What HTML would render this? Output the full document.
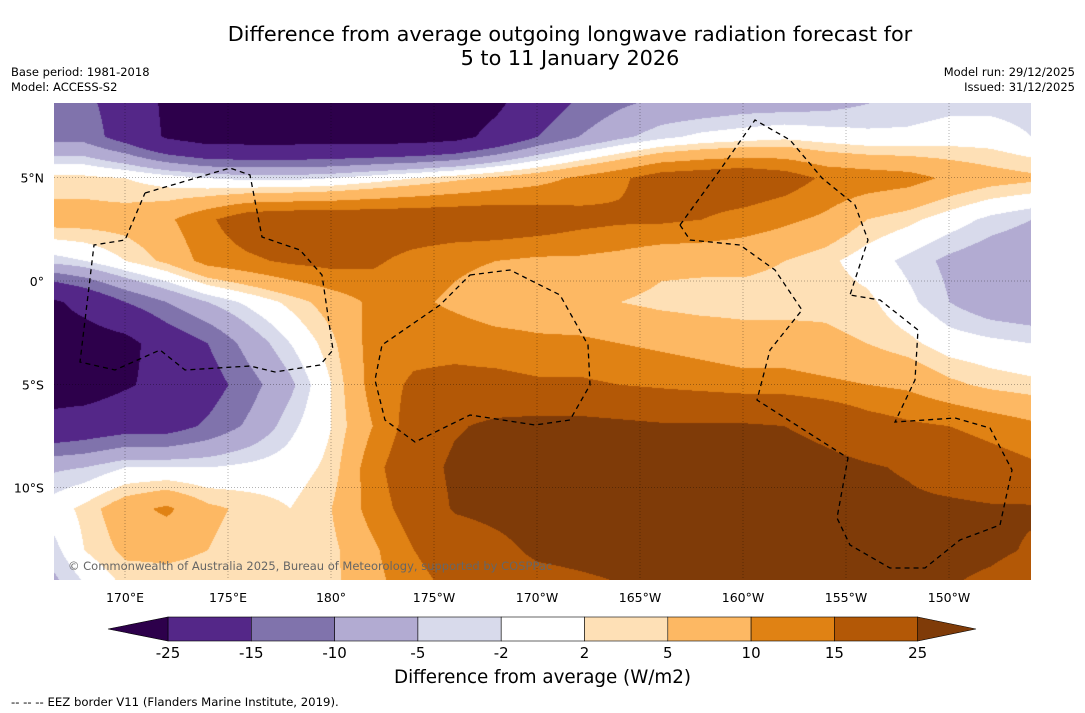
<!DOCTYPE html>
<html><head><meta charset="utf-8">
<style>
body{margin:0;background:#fff;font-family:"DejaVu Sans","Liberation Sans",sans-serif;}
#wrap{position:relative;width:1085px;height:713px;overflow:hidden;background:#fff;}
.t{position:absolute;color:#000;white-space:nowrap;}
</style></head><body>
<div id="wrap">
<div class="t" style="left:0;width:1140px;top:22px;text-align:center;font-size:20.8px;line-height:24px;">Difference from average outgoing longwave radiation forecast for<br>5 to 11 January 2026</div>
<div class="t" style="left:11px;top:65px;font-size:11.5px;line-height:15px;">Base period: 1981-2018<br>Model: ACCESS-S2</div>
<div class="t" style="right:10px;top:65px;font-size:11.5px;line-height:15px;text-align:right;">Model run: 29/12/2025<br>Issued: 31/12/2025</div>
<canvas id="map" width="977" height="477" style="position:absolute;left:54px;top:103px;"></canvas>
<svg id="ov" width="1085" height="713" style="position:absolute;left:0;top:0;"></svg>
<div class="t" style="left:68px;top:559px;font-size:11.5px;color:#666;">© Commonwealth of Australia 2025, Bureau of Meteorology, supported by COSPPac</div>
<div class="t" style="left:0;width:1085px;text-align:center;top:667px;font-size:18.3px;">Difference from average (W/m2)</div>
<div class="t" style="left:11px;top:695px;font-size:11.7px;">--  --  -- EEZ border V11 (Flanders Marine Institute, 2019).</div>
</div>
<script>
const levels=[-25,-15,-10,-5,-2,2,5,10,15,25];
const colors=["#2d004b","#542788","#8073ac","#b2abd2","#d8daeb","#ffffff","#fee0b6","#fdb863","#e08214","#b35806","#7f3b08"];
const gridLons=[166,168,170,172,174,176,178,180,182,184,186,188,190,192,194,196,198,200,202,204,206,208,210,212,214];
const gridLats=[9,7,5,3,1,-1,-3,-5,-7,-9,-11,-13,-15];
const lonTicks=[170,175,180,185,190,195,200,205,210];
const lonTickLabels=["170°E","175°E","180°","175°W","170°W","165°W","160°W","155°W","150°W"];
const latTicks=[5,0,-5,-10];
const latTickLabels=["5°N","0°","5°S","10°S"];
const olr=[
[-12,-14,-18,-27,-32,-32,-32,-32,-32,-32,-32,-28,-20,-15,-12,-10,-10,-9,-9,-8,-6,-5,-4,-4,-4],
[-12,-12,-18,-26,-30,-30,-30,-30,-30,-30,-28,-22,-15,-10,-6,-3,-1,0,1,0,-1,-1,0,0,-2],
[3,3,2,0,-2,-3,-3,-2,0,2,4,6,8,11,14,18,19,20,18,14,13,12,9,7,6],
[7,7,7,9,14,19,20,20,20,20,20,20,19,17,16,16,15,13,11,9,5,3,0,-3,-5],
[-4,-2,2,6,12,14,16,17,16,13,11,10,9,9,8,6,6,6,5,3,0,-3,-6,-8,-9],
[-28,-22,-15,-10,-5,-1,3,7,11,11,9,7,7,6,5,4,3.5,3.5,3.5,4,3,-1,-5,-8,-9],
[-30,-30,-28,-20,-15,-8,-2,4,12,13,13,12,11,11,10,9,8,7,7,6,5,3,0,-1,-2],
[-30,-30,-26,-22,-18,-12,-6,2,12,16,17,17,16,16,15,14,13,12,12,11,10,9,6,4,3],
[-22,-20,-18,-18,-14,-9,-3,2,10,18,24,27,28,28,27,26,26,26,25,22,18,16,15,13,11],
[-6,-5,-2,-2,-2,-1,0,3,13,20,27,29,30,30,30,30,30,30,30,28,26,24,20,18,16],
[-1,3,8,11,6,4,2,5,12,18,26,28,30,30,30,30,30,30,30,30,28,27,27,26,26],
[-5,2,6,6,5,3,2,4,9,15,18,22,27,28,29,30,30,30,30,30,28,28,28,27,24],
[-8,-3,2,3,3,2,2,4,8,13,16,18,20,22,24,24,25,26,27,28,28,26,25,22,18]
];
const X=lon=>125+(lon-170)*20.6;
const Y=lat=>281-lat*20.66;
const invX=x=>170+(x-125)/20.6;
const invY=y=>(281-y)/20.66;
(function(){
 const c=document.getElementById('map'),ctx=c.getContext('2d');
 const img=ctx.createImageData(c.width,c.height);
 const rgb=colors.map(h=>[parseInt(h.slice(1,3),16),parseInt(h.slice(3,5),16),parseInt(h.slice(5,7),16)]);
 const dLon=gridLons[1]-gridLons[0],dLat=gridLats[0]-gridLats[1];
 for(let py=0;py<c.height;py++){
  const lat=invY(py+103);
  let fr=(gridLats[0]-lat)/dLat; let r=Math.min(Math.max(Math.floor(fr),0),gridLats.length-2); let ty=fr-r;
  for(let px=0;px<c.width;px++){
   const lon=invX(px+54);
   let fc=(lon-gridLons[0])/dLon; let k=Math.min(Math.max(Math.floor(fc),0),gridLons.length-2); let tx=fc-k;
   const v=(olr[r][k]*(1-tx)+olr[r][k+1]*tx)*(1-ty)+(olr[r+1][k]*(1-tx)+olr[r+1][k+1]*tx)*ty;
   let i=0; while(i<levels.length&&v>=levels[i]) i++;
   const col=rgb[i],o=(py*c.width+px)*4;
   img.data[o]=col[0];img.data[o+1]=col[1];img.data[o+2]=col[2];img.data[o+3]=255;
  }
 }
 ctx.putImageData(img,0,0);
})();
const NS="http://www.w3.org/2000/svg";
const ov=document.getElementById('ov');
function mk(tag,attrs,parent){const e=document.createElementNS(NS,tag);for(const k in attrs)e.setAttribute(k,attrs[k]);(parent||ov).appendChild(e);return e;}
lonTicks.forEach((l,i)=>{
 const g=mk('line',{x1:X(l),x2:X(l),y1:103,y2:580,stroke:'#000','stroke-width':0.5,'stroke-dasharray':'1,2',opacity:0.6});
 
 
 const t=mk('text',{x:X(l),y:602,'text-anchor':'middle','font-size':12.5,'font-family':'DejaVu Sans, Liberation Sans, sans-serif'});
 t.textContent=lonTickLabels[i];
 
 
});
latTicks.forEach((l,i)=>{
 const g=mk('line',{x1:54,x2:1031,y1:Y(l),y2:Y(l),stroke:'#000','stroke-width':0.5,'stroke-dasharray':'1,2',opacity:0.6});
 
 
 const t=mk('text',{x:44,y:Y(l)+5,'text-anchor':'end','font-size':12.5,'font-family':'DejaVu Sans, Liberation Sans, sans-serif'});
 t.textContent=latTickLabels[i];
 
 
});
const eez=[
"M145,193 L230,168 L250,175 L262,237 L300,250 L322,275 L333,350 L320,365 L275,372 L250,366 L185,370 L160,350 L115,370 L80,362 L94,245 L125,240 L145,193",
"M470,275 L510,270 L560,295 L588,345 L590,385 L570,420 L535,425 L470,415 L415,442 L385,420 L375,380 L382,345 L440,305 Z",
"M680,225 L720,170 L755,120 L790,140 L822,178 L855,205 L868,240 L850,295",
"M680,225 L690,240 L740,245 L775,270 L802,310 L770,350 L757,400 L848,458 L837,518 L850,545 L890,568 L925,568 L960,540 L1000,525 L1012,470 L990,428 L955,418 L895,422 L915,380 L918,330 L880,300 L850,295"
];
eez.forEach(d=>{const p=mk('path',{d:d,fill:'none',stroke:'#000','stroke-width':1.3,'stroke-dasharray':'5,4'});
 
 });
const cbX0=168,cbW=83.3,cbY=617,cbH=24;
for(let i=1;i<colors.length-1;i++){
 const r=mk('rect',{x:cbX0+(i-1)*cbW,y:cbY,width:cbW,height:cbH,fill:colors[i],stroke:'#000','stroke-width':0.6});
 
 
}
const lt=mk('polygon',{points:`108,${cbY+cbH/2} ${cbX0},${cbY} ${cbX0},${cbY+cbH}`,fill:colors[0],stroke:'#000','stroke-width':0.6});


const xe=cbX0+(colors.length-2)*cbW;
const rt=mk('polygon',{points:`${xe},${cbY} 976,${cbY+cbH/2} ${xe},${cbY+cbH}`,fill:colors[colors.length-1],stroke:'#000','stroke-width':0.6});


levels.forEach((lv,i)=>{
 const t=mk('text',{x:cbX0+i*cbW,y:658,'text-anchor':'middle','font-size':15,'font-family':'DejaVu Sans, Liberation Sans, sans-serif'});
 t.textContent=lv;
 
 
});
</script>
</body></html>
